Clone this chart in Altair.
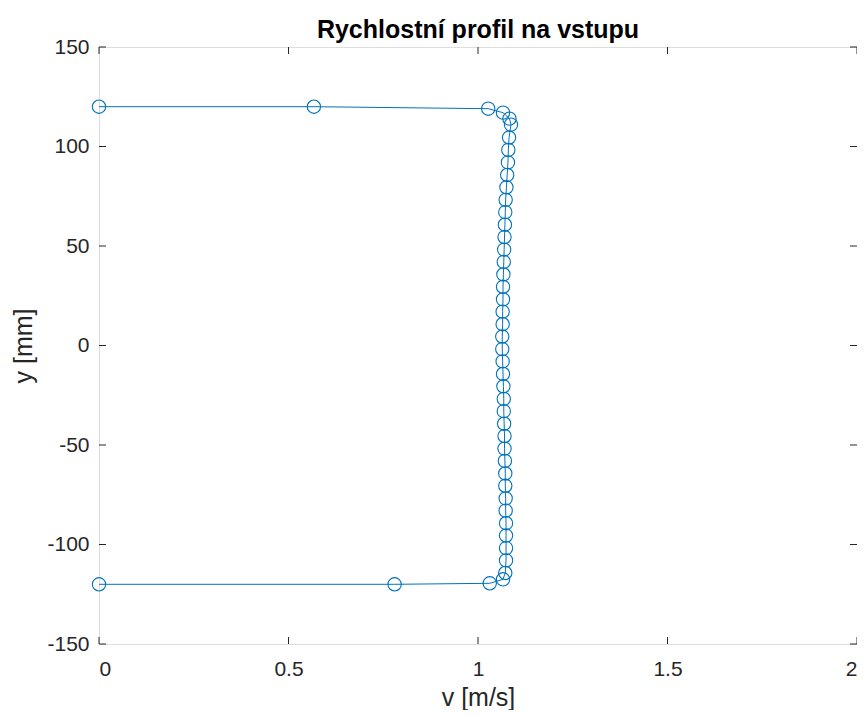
import altair as alt
import pandas as pd

# Velocity profile samples (v in m/s, y in mm)
v_vals = [0.0, 0.567, 1.027, 1.066, 1.083, 1.087, 1.082, 1.080, 1.079, 1.077,
          1.075, 1.073, 1.072, 1.071, 1.070, 1.069, 1.068, 1.067, 1.066, 1.066,
          1.065, 1.065, 1.064, 1.064, 1.065, 1.066, 1.067, 1.068, 1.068, 1.069,
          1.070, 1.070, 1.071, 1.072, 1.072, 1.073, 1.073, 1.074, 1.074, 1.074,
          1.074, 1.072, 1.066, 1.031, 0.780, 0.0]
y_vals = [120.0, 120.0, 119.0, 117.0, 114.0, 111.0, 104.5, 98.3, 92.0, 85.7,
          79.5, 73.2, 67.0, 60.7, 54.5, 48.2, 42.0, 35.7, 29.5, 23.2,
          17.0, 10.7, 4.5, -1.8, -8.0, -14.3, -20.5, -26.8, -33.0, -39.3,
          -45.5, -51.8, -58.0, -64.3, -70.5, -76.8, -83.0, -89.3, -95.5, -101.8,
          -108.0, -114.3, -117.5, -119.5, -120.0, -120.0]

x_ticks = [0, 0.5, 1, 1.5, 2]
y_ticks = [-150, -100, -50, 0, 50, 100, 150]

W, H = 758, 597
BLUE = "#0072BD"
AX = "#262626"
FONT = "Liberation Sans"

df = pd.DataFrame({"v": v_vals, "y": y_vals, "i": list(range(len(v_vals)))})
xt = pd.DataFrame({"t": x_ticks})
yt = pd.DataFrame({"t": y_ticks})

xscale = alt.Scale(domain=[0, 2], nice=False, zero=False)
yscale = alt.Scale(domain=[-150, 150], nice=False, zero=False)

xaxis = alt.Axis(values=x_ticks, grid=False, domain=False, ticks=False, tickSize=0,
                 labelFont=FONT, labelFontSize=21, labelColor=AX, labelPadding=14,
                 labelExpr="toString(datum.value)",
                 title="v [m/s]", titleFont=FONT, titleFontSize=25, titleFontWeight="normal",
                 titleColor=AX, titlePadding=6)
yaxis = alt.Axis(values=y_ticks, grid=False, domain=False, ticks=False, tickSize=0,
                 labelFont=FONT, labelFontSize=21, labelColor=AX, labelPadding=10,
                 labelExpr="toString(datum.value)",
                 title="y [mm]", titleFont=FONT, titleFontSize=25, titleFontWeight="normal",
                 titleColor=AX, titlePadding=10)

line = alt.Chart(df).mark_line(
    color=BLUE, strokeWidth=1,
    point=alt.OverlayMarkDef(filled=False, fill=None, stroke=BLUE, strokeWidth=1.1, size=177, shape="circle", opacity=1),
).encode(
    x=alt.X("v:Q", scale=xscale, axis=xaxis),
    y=alt.Y("y:Q", scale=yscale, axis=yaxis),
    order="i:Q",
)

TL = 7
xb = alt.Chart(xt).mark_rule(color=AX, strokeWidth=1).encode(
    x=alt.X("t:Q", scale=xscale), y=alt.value(H), y2=alt.value(H - TL))
xtp = alt.Chart(xt).mark_rule(color=AX, strokeWidth=1).encode(
    x=alt.X("t:Q", scale=xscale), y=alt.value(0), y2=alt.value(TL))
yl = alt.Chart(yt).mark_rule(color=AX, strokeWidth=1).encode(
    y=alt.Y("t:Q", scale=yscale), x=alt.value(0), x2=alt.value(TL))
yr = alt.Chart(yt).mark_rule(color=AX, strokeWidth=1).encode(
    y=alt.Y("t:Q", scale=yscale), x=alt.value(W), x2=alt.value(W - TL))

chart = alt.layer(xb, xtp, yl, yr, line).properties(
    width=W, height=H,
    title=alt.TitleParams("Rychlostní profil na vstupu", font=FONT, fontSize=25,
                          fontWeight="bold", color="#000000", anchor="middle",
                          offset=0, dy=7),
    autosize=alt.AutoSizeParams(type="none"),
    padding={"left": 91, "top": 39, "right": 0, "bottom": 66},
).configure_view(stroke=AX, strokeWidth=1).configure(background="white")

chart.save("out.html", embed_options={"renderer": "svg", "actions": False})
